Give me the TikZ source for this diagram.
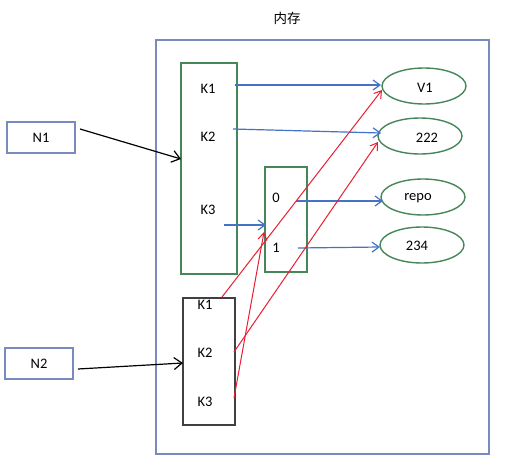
\documentclass[tikz,border=0pt]{standalone}
\usepackage{fontspec}
\setmainfont{Carlito}
\newfontfamily\cjk{Noto Sans CJK SC}
\usetikzlibrary{arrows.meta,shapes.geometric}
\definecolor{frameblue}{RGB}{120,138,192}
\definecolor{boxgreen}{RGB}{70,135,90}
\definecolor{arrblue}{RGB}{68,114,196}
\definecolor{arrred}{RGB}{232,30,50}
\begin{document}
\begin{tikzpicture}[x=1pt,y=-1pt,
  every node/.style={font=\fontsize{14.5}{16}\selectfont, inner sep=0pt},
  ell/.style={draw=boxgreen, line width=1.4pt, ellipse, minimum width=84pt, minimum height=36pt},
  gbox/.style={draw=boxgreen, line width=1.4pt},
  nbox/.style={draw=frameblue, line width=1.4pt, minimum width=68pt, minimum height=31pt},
  ba/.style={draw=arrblue, line width=1.2pt, -{Straight Barb[length=7pt,width=10pt]}},
  ra/.style={draw=arrred, line width=1pt, -{Straight Barb[length=7pt,width=9pt]}},
  ka/.style={draw=black, line width=1.2pt, -{Straight Barb[length=8pt,width=12pt]}}]
\useasboundingbox (0,0) rectangle (512,461);
\fill[white] (0,0) rectangle (512,461);
% title
\node[font=\fontsize{13.5}{15}\selectfont\cjk] (title) at (287,18) {内存};
% frame
\draw[frameblue, line width=1.4pt] (156,40) rectangle (489,454);
% green big box
\node[gbox, minimum width=56pt, minimum height=211pt] (gb) at (209,168.5) {};
\node (gk1) at (208,89) {K1};
\node (gk2) at (208,137) {K2};
\node (gk3) at (208,210) {K3};
% small green box
\node[gbox, minimum width=42pt, minimum height=105pt] (sb) at (286,219.5) {};
\node (s0) at (276,198) {0};
\node (s1) at (276,248) {1};
% ellipses
\node[ell] (v1) at (424,86) {};
\node (v1t) at (425,88) {V1};
\node[ell] (e222) at (420,136) {};
\node (e222t) at (427,138) {222};
\node[ell] (repo) at (423,197) {};
\node (repot) at (418,198) {repo};
\node[ell] (e234) at (422,245) {};
\node (e234t) at (417,246) {234};
% black box
\node[draw=black!75, line width=1.4pt, minimum width=52pt, minimum height=127pt] (kb) at (209,361.5) {};
\node (bk1) at (205,305) {K1};
\node (bk2) at (205,353) {K2};
\node (bk3) at (205,402) {K3};
% N boxes
\node[nbox] (n1) at (41,137.5) {N1};
\node[nbox] (n2) at (39,363.5) {N2};
% coordinates
\coordinate (a1s) at (235,85);  \coordinate (a1e) at (381,85);
\coordinate (a2s) at (233,129); \coordinate (a2e) at (381,133);
\coordinate (a3s) at (224,225); \coordinate (a3e) at (266,225);
\coordinate (a4s) at (296,201); \coordinate (a4e) at (383,201);
\coordinate (a5s) at (298,248); \coordinate (a5e) at (380,247);
\coordinate (n1s) at (80,129);  \coordinate (n1e) at (181,159);
\coordinate (n2s) at (78,369);  \coordinate (n2e) at (183,363);
\coordinate (r1s) at (222,297); \coordinate (r1e) at (382,90);
\coordinate (r2s) at (234,352); \coordinate (r2e) at (378,142);
\coordinate (r3s) at (234,398); \coordinate (r3e) at (264,232);
% blue arrows
\draw[ba] (a1s) -- (a1e);
\draw[ba] (a2s) -- (a2e);
\draw[ba] (a3s) -- (a3e);
\draw[ba] (a4s) -- (a4e);
\draw[ba] (a5s) -- (a5e);
% black arrows
\draw[ka] (n1s) -- (n1e);
\draw[ka] (n2s) -- (n2e);
% red arrows
\draw[ra] (r1s) -- (r1e);
\draw[ra] (r2s) -- (r2e);
\draw[ra] (r3s) -- (r3e);
\end{tikzpicture}
\end{document}
